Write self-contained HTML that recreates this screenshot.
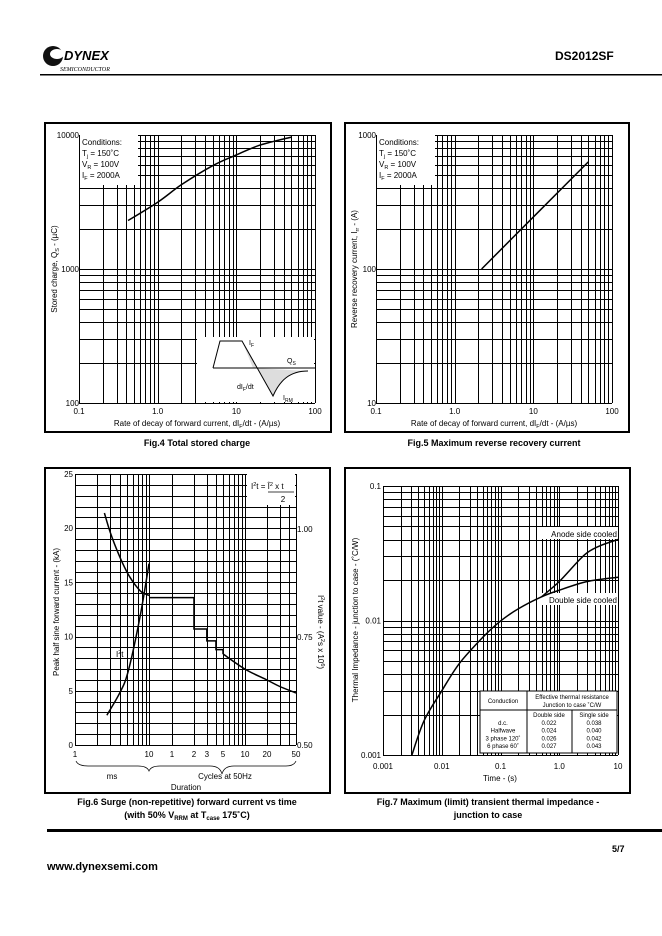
<!DOCTYPE html>
<html><head><meta charset="utf-8"><style>
body{margin:0;background:#fff;width:662px;height:936px;overflow:hidden;font-family:"Liberation Sans",sans-serif}
svg{position:absolute;left:0;top:0}
</style></head><body>
<svg id="pg" width="662" height="936" xmlns="http://www.w3.org/2000/svg" font-family="Liberation Sans, sans-serif">
<g>
  <ellipse cx="53" cy="56" rx="10" ry="10" fill="#111"/>
  <ellipse cx="57" cy="54" rx="7" ry="5" fill="#fff"/>
  <text x="64" y="60" font-size="13" font-weight="bold" font-style="italic">DYNEX</text>
  <text x="60" y="71" font-size="6" font-family="Liberation Serif, serif" font-style="italic">SEMICONDUCTOR</text>
  <text x="555" y="60" font-size="12" font-weight="bold">DS2012SF</text>
  <rect x="40" y="74" width="622" height="1.5" fill="#000"/>
</g>
<g id="charts"></g>
<g>
  <rect x="47" y="829" width="615" height="3" fill="#000"/>
  <text x="612" y="852" font-size="9" font-weight="bold">5/7</text>
  <text x="47" y="870" font-size="11" font-weight="bold">www.dynexsemi.com</text>
</g>
</svg>
<script>
// Fig.4 data
const fig4X = [0.42, 1, 2, 5, 10, 20, 50];
const fig4Y = [2300, 3150, 4250, 5900, 7100, 8400, 9650];
// Fig.5 data
const fig5X = [2.2, 50];
const fig5Y = [100, 630];
// Fig.6 data (ms segment, then cycle steps, then cycle curve)
const fig6MsX = [2.5, 3, 4, 5, 6, 7, 8, 10];
const fig6MsY = [21.4, 19.6, 17.4, 16.0, 15.1, 14.5, 14.1, 13.8];
const fig6CycX = [1, 2, 3, 4, 5];
const fig6CycY = [13.6, 10.7, 9.6, 8.8, 8.4];
const fig6TailX = [5, 10, 20, 30, 50];
const fig6TailY = [8.4, 7.0, 6.0, 5.4, 4.8];
const fig6I2tX = [2.7, 4, 5.2, 7.5, 10];
const fig6I2tY = [0.569, 0.62, 0.669, 0.794, 0.92];
// Fig.7 data
const fig7X = [0.0031, 0.005, 0.01, 0.02, 0.05, 0.1, 0.2, 0.5, 1, 3, 10];
const fig7Double = [0.001, 0.0018, 0.003, 0.0048, 0.0075, 0.0099, 0.0122, 0.015, 0.0168, 0.0195, 0.021];
const fig7AnodeX = [0.5, 1, 2, 3, 5, 10];
const fig7Anode = [0.015, 0.0195, 0.027, 0.032, 0.036, 0.04];
const fig7Table = [["d.c.","0.022","0.038"],["Halfwave","0.024","0.040"],["3 phase 120˚","0.026","0.042"],["6 phase 60˚","0.027","0.043"]];

const NS = "http://www.w3.org/2000/svg";
const root = document.getElementById('charts');
function el(tag, attrs, parent, txt) {
  const e = document.createElementNS(NS, tag);
  for (const k in attrs) e.setAttribute(k, attrs[k]);
  if (txt !== undefined) e.textContent = txt;
  (parent || root).appendChild(e);
  return e;
}
function logScale(d0, d1, p0, p1) { return v => p0 + (Math.log10(v) - Math.log10(d0)) / (Math.log10(d1) - Math.log10(d0)) * (p1 - p0); }
function linScale(d0, d1, p0, p1) { return v => p0 + (v - d0) / (d1 - d0) * (p1 - p0); }
function poly(xs, ys, sx, sy, g, name) {
  const P = xs.map((x, i) => [sx(x), sy(ys[i])]);
  let d = 'M' + P[0][0].toFixed(1) + ',' + P[0][1].toFixed(1);
  for (let i = 0; i < P.length - 1; i++) {
    const p0 = P[Math.max(0, i - 1)], p1 = P[i], p2 = P[i + 1], p3 = P[Math.min(P.length - 1, i + 2)];
    const c1 = [p1[0] + (p2[0] - p0[0]) / 6, p1[1] + (p2[1] - p0[1]) / 6];
    const c2 = [p2[0] - (p3[0] - p1[0]) / 6, p2[1] - (p3[1] - p1[1]) / 6];
    d += ' C' + c1.map(v => v.toFixed(1)).join(',') + ' ' + c2.map(v => v.toFixed(1)).join(',') + ' ' + p2.map(v => v.toFixed(1)).join(',');
  }
  const p = el('path', {d, fill: 'none', stroke: '#000', 'stroke-width': 1.5}, g);
  
  
  return p;
}
function logVals(d0, d1) { const out = []; for (let e = Math.log10(d0); e < Math.log10(d1) - 1e-9; e++) for (let m = 1; m < 10; m++) out.push(m * Math.pow(10, e)); out.push(d1); return out; }
function snap(v) { return Math.round(v) + 0.5; }
function vline(x, y0, y1, g) { x = snap(x); el('line', {x1: x, x2: x, y1: y0, y2: y1, stroke: '#000', 'stroke-width': 1}, g); }
function hline(y, x0, x1, g) { y = snap(y); el('line', {x1: x0, x2: x1, y1: y, y2: y, stroke: '#000', 'stroke-width': 1}, g); }
function box(x, y, w, h, name) {
  const r = el('rect', {x, y, width: w, height: h, fill: 'none', stroke: '#000', 'stroke-width': 2});
  
  
}
function txt(x, y, s, size, g, anchor, name, extra) {
  const t = el('text', Object.assign({x, y, 'font-size': size, 'text-anchor': anchor || 'start'}, extra || {}), g);
  t.innerHTML = s;
  
  
  return t;
}
function conditions(x, y, g) {
  el('rect', {x: x - 2, y: y - 2, width: 58, height: 50, fill: '#fff'}, g);
  txt(x, y + 8, 'Conditions:', 8, g, 'start', 'conditions-title');
  txt(x, y + 19, 'T<tspan font-size="5.5" dy="2">j</tspan><tspan dy="-2"> = 150˚C</tspan>', 8, g, 'start', 'conditions-tj');
  txt(x, y + 30, 'V<tspan font-size="5.5" dy="2">R</tspan><tspan dy="-2"> = 100V</tspan>', 8, g, 'start', 'conditions-vr');
  txt(x, y + 41, 'I<tspan font-size="5.5" dy="2">F</tspan><tspan dy="-2"> = 2000A</tspan>', 8, g, 'start', 'conditions-if');
}

// ---- Fig 4 ----
(function () {
  const g = el('g', {});
  
  
  box(45, 123, 286, 309, 'fig4-frame');
  const sx = logScale(0.1, 100, 79, 315), sy = logScale(100, 10000, 403, 135);
  logVals(0.1, 100).forEach(v => vline(sx(v), 135, 403, g));
  logVals(100, 10000).forEach(v => hline(sy(v), 79, 315, g));
  conditions(82, 137, g);
  el('rect', {x: 197, y: 337, width: 117, height: 65, fill: '#fff'}, g);
  el('path', {d: 'M242,341 L273,396 C280,380 290,371 308,371 L253,368 Z', fill: '#ddd'}, g);
  el('line', {x1: 213, y1: 368, x2: 316, y2: 368, stroke: '#000'}, g);
  el('path', {d: 'M213,368 L220,341 L242,341 L273,396 C280,380 290,371 308,371', fill: 'none', stroke: '#000'}, g);
  txt(249, 345, 'I<tspan font-size="5" dy="2">F</tspan>', 7, g, 'start', 'inset-if-label');
  txt(287, 363, 'Q<tspan font-size="5" dy="2">S</tspan>', 7, g, 'start', 'inset-qs-label');
  txt(237, 389, 'dI<tspan font-size="5" dy="2">F</tspan><tspan dy="-2">/dt</tspan>', 7, g, 'start', 'inset-didt-label');
  txt(283, 400, 'I<tspan font-size="5" dy="2">RM</tspan>', 7, g, 'start', 'inset-irm-label');
  poly(fig4X, fig4Y, sx, sy, g, 'stored-charge-curve');
  [[100, '100'], [1000, '1000'], [10000, '10000']].forEach(([v, s]) => txt(79, sy(v) + 3, s, 8, g, 'end', 'fig4-y-tick'));
  [[0.1, '0.1'], [1, '1.0'], [10, '10'], [100, '100']].forEach(([v, s]) => txt(sx(v), 414, s, 8, g, 'middle', 'fig4-x-tick'));
  txt(197, 426, 'Rate of decay of forward current, dI<tspan font-size="5.5" dy="2">F</tspan><tspan dy="-2">/dt - (A/µs)</tspan>', 8, g, 'middle', 'fig4-x-axis-title');
  txt(0, 0, 'Stored charge, Q<tspan font-size="5.5" dy="2">S</tspan><tspan dy="-2"> - (µC)</tspan>', 8, g, 'middle', 'fig4-y-axis-title', {transform: 'translate(57,269) rotate(-90)'});
  txt(197, 446, 'Fig.4 Total stored charge', 9, g, 'middle', 'fig4-caption', {'font-weight': 'bold'});
})();

// ---- Fig 5 ----
(function () {
  const g = el('g', {});
  
  
  box(345, 123, 284, 309, 'fig5-frame');
  const sx = logScale(0.1, 100, 376, 612), sy = logScale(10, 1000, 403, 135);
  logVals(0.1, 100).forEach(v => vline(sx(v), 135, 403, g));
  logVals(10, 1000).forEach(v => hline(sy(v), 376, 612, g));
  conditions(379, 137, g);
  poly(fig5X, fig5Y, sx, sy, g, 'reverse-recovery-line');
  [[10, '10'], [100, '100'], [1000, '1000']].forEach(([v, s]) => txt(376, sy(v) + 3, s, 8, g, 'end', 'fig5-y-tick'));
  [[0.1, '0.1'], [1, '1.0'], [10, '10'], [100, '100']].forEach(([v, s]) => txt(sx(v), 414, s, 8, g, 'middle', 'fig5-x-tick'));
  txt(494, 426, 'Rate of decay of forward current, dI<tspan font-size="5.5" dy="2">F</tspan><tspan dy="-2">/dt - (A/µs)</tspan>', 8, g, 'middle', 'fig5-x-axis-title');
  txt(0, 0, 'Reverse recovery current, I<tspan font-size="5.5" dy="2">rr</tspan><tspan dy="-2"> - (A)</tspan>', 8, g, 'middle', 'fig5-y-axis-title', {transform: 'translate(357,269) rotate(-90)'});
  txt(494, 446, 'Fig.5 Maximum reverse recovery current', 9, g, 'middle', 'fig5-caption', {'font-weight': 'bold'});
})();

// ---- Fig 6 ----
(function () {
  const g = el('g', {});
  
  
  box(45, 468, 285, 325, 'fig6-frame');
  const sxm = logScale(1, 10, 75, 149), sxc = logScale(1, 50, 172, 296);
  const sy = linScale(0, 25, 745, 474), sr = linScale(0.5, 1.0, 745, 529);
  for (let m = 1; m <= 10; m++) vline(sxm(m), 474, 745, g);
  [1,2,3,4,5,6,7,8,9,10,20,30,40,50].forEach(c => vline(sxc(c), 474, 745, g));
  for (let k = 0; k <= 25; k++) hline(sy(k), 75, 296, g);
  el('rect', {x: 247, y: 474, width: 48, height: 31, fill: '#fff'}, g);
  txt(251, 489, 'I<tspan font-size="5.5" dy="-3">2</tspan><tspan dy="3">t = Î</tspan><tspan font-size="5.5" dy="-3">2</tspan><tspan dy="3"> x t</tspan>', 8, g, 'start', 'i2t-formula');
  el('line', {x1: 268, x2: 294, y1: 492, y2: 492, stroke: '#000', 'stroke-width': 0.8}, g);
  txt(283, 502, '2', 8, g, 'middle', 'i2t-formula-denominator');
  poly(fig6MsX, fig6MsY, sxm, sy, g, 'surge-curve-ms');
  const stepPts = [[149, sy(fig6CycY[0])]];
  fig6CycX.forEach((c, i) => {
    stepPts.push([sxc(c), sy(fig6CycY[i])]);
    if (i + 1 < fig6CycX.length) stepPts.push([sxc(c + 1), sy(fig6CycY[i])]);
  });
  const st = el('polyline', {points: stepPts.map(p => p.join(',')).join(' '), fill: 'none', stroke: '#000', 'stroke-width': 1.5}, g);
  
  
  poly(fig6TailX, fig6TailY, sxc, sy, g, 'surge-curve-cycles');
  poly(fig6I2tX, fig6I2tY, sxm, sr, g, 'i2t-curve');
  txt(116, 657, 'I<tspan font-size="5.5" dy="-3">2</tspan><tspan dy="3">t</tspan>', 8, g, 'start', 'i2t-label');
  [0, 5, 10, 15, 20, 25].forEach(v => txt(73, sy(v) + 3, String(v), 8, g, 'end', 'fig6-y-tick'));
  [[0.5, '0.50'], [0.75, '0.75'], [1.0, '1.00']].forEach(([v, s]) => txt(297, sr(v) + 3, s, 8, g, 'start', 'fig6-right-tick'));
  txt(sxm(1), 757, '1', 8, g, 'middle', 'fig6-x-tick-ms');
  txt(sxm(10), 757, '10', 8, g, 'middle', 'fig6-x-tick-ms');
  [1, 2, 3, 5, 10, 20, 50].forEach(c => txt(sxc(c), 757, String(c), 8, g, 'middle', 'fig6-x-tick-cycles'));
  el('path', {d: 'M76,761 Q78,766 88,766 L138,766 Q147,766 149,771 Q151,766 160,766 L210,766 Q220,766 222,774 Q224,766 234,766 L286,766 Q294,766 296,761', fill: 'none', stroke: '#000', 'stroke-width': 0.7}, g);
  txt(112, 779, 'ms', 8, g, 'middle', 'fig6-ms-label');
  txt(225, 779, 'Cycles at 50Hz', 8, g, 'middle', 'fig6-cycles-label');
  txt(186, 790, 'Duration', 8, g, 'middle', 'fig6-x-axis-title');
  txt(0, 0, 'Peak half sine forward current - (kA)', 8, g, 'middle', 'fig6-y-axis-title', {transform: 'translate(59,612) rotate(-90)'});
  txt(0, 0, 'I<tspan font-size="5.5" dy="-3">2</tspan><tspan dy="3">t value - (A</tspan><tspan font-size="5.5" dy="-3">2</tspan><tspan dy="3">s x 10</tspan><tspan font-size="5.5" dy="-3">6</tspan><tspan dy="3">)</tspan>', 8, g, 'middle', 'fig6-right-axis-title', {transform: 'translate(318,632) rotate(90)'});
  txt(187, 805, 'Fig.6 Surge (non-repetitive) forward current vs time', 9, g, 'middle', 'fig6-caption-line1', {'font-weight': 'bold'});
  txt(187, 818, '(with 50% V<tspan font-size="6" dy="2">RRM</tspan><tspan dy="-2"> at T</tspan><tspan font-size="6" dy="2">case</tspan><tspan dy="-2"> 175˚C)</tspan>', 9, g, 'middle', 'fig6-caption-line2', {'font-weight': 'bold'});
})();

// ---- Fig 7 ----
(function () {
  const g = el('g', {});
  
  
  box(345, 468, 285, 325, 'fig7-frame');
  const sx = logScale(0.001, 10, 383, 618), sy = logScale(0.001, 0.1, 755, 486);
  logVals(0.001, 10).forEach(v => vline(sx(v), 486, 755, g));
  logVals(0.001, 0.1).forEach(v => hline(sy(v), 383, 618, g));
  el('rect', {x: 541, y: 527, width: 76, height: 12, fill: '#fff'}, g);
  txt(617, 537, 'Anode side cooled', 8, g, 'end', 'anode-side-label');
  el('rect', {x: 540, y: 593, width: 77, height: 12, fill: '#fff'}, g);
  txt(617, 603, 'Double side cooled', 8, g, 'end', 'double-side-label');
  poly(fig7X, fig7Double, sx, sy, g, 'double-side-curve');
  poly(fig7AnodeX, fig7Anode, sx, sy, g, 'anode-side-curve');
  const tg = el('g', {}, g);
  
  
  el('rect', {x: 480, y: 691, width: 137, height: 62, fill: '#fff', stroke: '#000'}, tg);
  el('line', {x1: 527, x2: 527, y1: 691, y2: 753, stroke: '#000'}, tg);
  el('line', {x1: 572, x2: 572, y1: 710, y2: 753, stroke: '#000'}, tg);
  el('line', {x1: 480, x2: 617, y1: 710, y2: 710, stroke: '#000'}, tg);
  txt(503, 703, 'Conduction', 6, tg, 'middle', 'table-header-conduction');
  txt(572, 699, 'Effective thermal resistance', 6, tg, 'middle', 'table-header-resistance');
  txt(572, 707, 'Junction to case ˚C/W', 6, tg, 'middle', 'table-header-units');
  txt(549, 717, 'Double side', 6, tg, 'middle', 'table-header-double');
  txt(594, 717, 'Single side', 6, tg, 'middle', 'table-header-single');
  fig7Table.forEach((r, i) => {
    txt(503, 725 + i * 7.7, r[0], 6, tg, 'middle', 'table-row-conduction');
    txt(549, 725 + i * 7.7, r[1], 6, tg, 'middle', 'table-row-double');
    txt(594, 725 + i * 7.7, r[2], 6, tg, 'middle', 'table-row-single');
  });
  [[0.001, '0.001'], [0.01, '0.01'], [0.1, '0.1']].forEach(([v, s]) => txt(381, sy(v) + 3, s, 8, g, 'end', 'fig7-y-tick'));
  [[0.001, '0.001'], [0.01, '0.01'], [0.1, '0.1'], [1, '1.0'], [10, '10']].forEach(([v, s]) => txt(sx(v), 769, s, 8, g, 'middle', 'fig7-x-tick'));
  txt(500, 781, 'Time - (s)', 8, g, 'middle', 'fig7-x-axis-title');
  txt(0, 0, 'Thermal Impedance - junction to case - (˚C/W)', 8, g, 'middle', 'fig7-y-axis-title', {transform: 'translate(358,620) rotate(-90)'});
  txt(488, 805, 'Fig.7 Maximum (limit) transient thermal impedance -', 9, g, 'middle', 'fig7-caption-line1', {'font-weight': 'bold'});
  txt(488, 818, 'junction to case', 9, g, 'middle', 'fig7-caption-line2', {'font-weight': 'bold'});
})();
</script>
</body></html>
